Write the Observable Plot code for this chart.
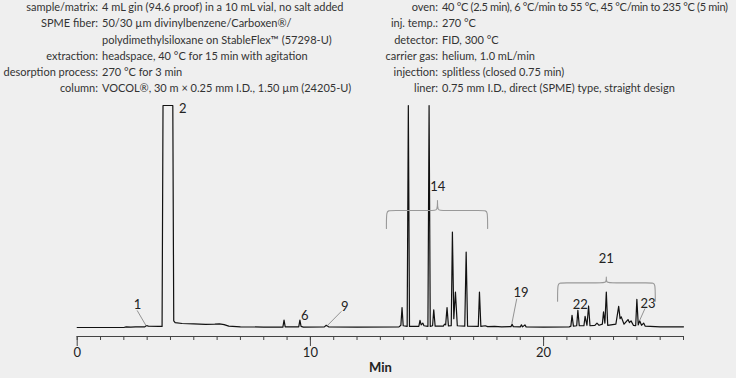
<!DOCTYPE html>
<html><head><meta charset="utf-8">
<script src="https://cdn.jsdelivr.net/npm/d3@7"></script>
<script src="https://cdn.jsdelivr.net/npm/@observablehq/plot@0.6"></script>
<style>
body{margin:0;background:#efefef;}
#wrap{position:relative;width:736px;height:378px;overflow:hidden;font-family:Lato,"Open Sans",sans-serif;}
.hdr{position:absolute;top:-1px;font-size:11px;line-height:16.3px;color:#333;}
.row{display:flex;}
.lab{text-align:right;flex:none;white-space:nowrap;}
.val{padding-left:4px;white-space:nowrap;}
#hr .row:first-child .val{letter-spacing:-0.3px;}
#chart{position:absolute;left:0;top:0;}
</style></head>
<body>
<div id="wrap"><div id="chart"></div><div id="hl" class="hdr" style="left:0"></div><div id="hr" class="hdr" style="left:360px"></div></div>
<script>
// ---- header text ----
const leftLabels = ["sample/matrix:", "SPME fiber:", "", "extraction:", "desorption process:", "column:"];
const leftValues = ["4 mL gin (94.6 proof) in a 10 mL vial, no salt added",
  "50/30 µm divinylbenzene/Carboxen®/",
  "polydimethylsiloxane on StableFlex™ (57298-U)",
  "headspace, 40 °C for 15 min with agitation",
  "270 °C for 3 min",
  "VOCOL®, 30 m × 0.25 mm I.D., 1.50 µm (24205-U)"];
const rightLabels = ["oven:", "inj. temp.:", "detector:", "carrier gas:", "injection:", "liner:"];
const rightValues = ["40 °C (2.5 min), 6 °C/min to 55 °C, 45 °C/min to 235 °C (5 min)",
  "270 °C", "FID, 300 °C", "helium, 1.0 mL/min", "splitless (closed 0.75 min)",
  "0.75 mm I.D., direct (SPME) type, straight design"];

// ---- chromatogram trace (time in min, detector response) ----
const traceTime = [0,2.0,2.1,2.3,2.5,2.9,2.97,3.05,3.5,3.64,3.68,4.10,4.14,4.2,4.5,5.0,5.5,5.9,6.1,6.3,6.5,7.0,8.0,8.82,8.87,8.92,9.5,9.55,9.6,9.7,10.6,10.68,10.78,12.0,13.8,13.88,13.93,13.98,14.15,14.2,14.25,14.65,14.7,14.75,14.82,14.87,15.04,15.09,15.14,15.24,15.29,15.35,15.7,15.75,15.8,15.86,15.92,16.04,16.09,16.15,16.22,16.3,16.62,16.68,16.74,17.2,17.25,17.31,17.5,17.6,17.9,18.2,18.6,18.65,18.7,19.0,19.05,19.1,19.2,19.25,20.0,21.1,21.17,21.22,21.28,21.42,21.47,21.53,21.73,21.78,21.86,21.93,21.99,22.2,22.29,22.38,22.52,22.57,22.63,22.69,22.75,23.1,23.22,23.28,23.33,23.45,23.62,23.68,23.75,23.85,23.95,24.0,24.06,24.12,24.2,24.29,24.36,25.0,26.0];
const traceSignal = [0,0,0.3,0.2,0.3,0.3,0.9,0.6,0.5,0.5,100,100,3,2.2,1.8,1.6,1.4,1.5,1.6,1.3,0.6,0.3,0.2,0.2,3.3,0.3,0.3,3.3,0.5,0.2,0.3,1.0,0.3,0.2,0.3,1,9,0.8,0.5,100,0.5,0.5,3.2,1.2,2,0.8,0.5,100,0.5,0.8,8,0.6,0.6,1.5,1.2,9,0.7,0.8,43,4,16,0.8,0.6,34,0.6,0.5,16,0.5,0.8,0.4,0.5,0.3,0.4,1.5,0.4,0.3,1.2,0.3,1.2,0.3,0.2,0.3,0.6,5.5,0.6,0.8,7.7,0.8,0.8,5,1,9.7,0.8,1,2,1,1.5,7,2,16,1,1.5,9.5,4,4.8,1.5,3.6,2.2,3,1,0.8,12.7,1.2,3,1,2,0.6,0.3,0.3];

// ---- peak annotations ----
const peakLabels = ["1","2","6","9","14","19","21","22","23"];
const labelTimes = [2.59,4.53,9.76,11.47,15.46,19.03,22.69,21.57,24.48];
const labelValues = [10.4,98.6,5.4,9.1,63.5,15.8,31,10.4,10.7];

const leaderIds = ["1","9","19","23"];
const leaderT1 = [2.97,10.73,18.64,24.12];
const leaderV1 = [0.5,0.9,1.8,3.2];
const leaderT2 = [2.57,11.33,18.85,24.35];
const leaderV2 = [7.7,7.3,13,8.6];

const bracketIds = ["14","21"];
const bracketStart = [13.26,20.6];
const bracketEnd = [17.6,24.79];
const bracketCenter = [15.45,22.69];
const bracketTop = [52.7,20.1];
const bracketFoot = [44.6,11.8];
const bracketTip = [57.2,22.7];

const xTicks = d3.range(0, 27);
const xMajor = [0, 10, 20];

// header
function fillHeader(id, labs, vals, labW) {
  const el = document.getElementById(id);
  labs.forEach((l, i) => {
    const r = document.createElement("div"); r.className = "row";
    const a = document.createElement("div"); a.className = "lab"; a.style.width = labW + "px"; a.textContent = l;
    const b = document.createElement("div"); b.className = "val"; b.textContent = vals[i];
    r.append(a, b); el.append(r);
  });
}
fillHeader("hl", leftLabels, leftValues, 98);
fillHeader("hr", rightLabels, rightValues, 78);

const trace = traceTime.map((t, i) => ({t, v: traceSignal[i]}));
const labels = peakLabels.map((s, i) => ({s, t: labelTimes[i], v: labelValues[i]}));
const leaders = leaderIds.map((s, i) => ({s, t1: leaderT1[i], v1: leaderV1[i], t2: leaderT2[i], v2: leaderV2[i]}));
const bracketPts = [];
bracketIds.forEach((id, i) => {
  const s = bracketStart[i], e = bracketEnd[i], c = bracketCenter[i], top = bracketTop[i], f = bracketFoot[i], tip = bracketTip[i];
  const k = 0.12, m = 0.18;
  const pts = [[s,f],[s,f],[s,f],[s,top],[s+k,top],[c-m,top],[c,top],[c,tip],[c,tip],[c,tip],[c,top],[c+m,top],[e-k,top],[e,top],[e,f],[e,f],[e,f]];
  pts.forEach(([t, v]) => bracketPts.push({id, t, v}));
});

const yMin = -4.05;
const chart = Plot.plot({
  width: 736, height: 378,
  marginLeft: 76.7, marginRight: 53, marginTop: 105, marginBottom: 42,
  x: {domain: [0, 26]},
  y: {domain: [yMin, 100], axis: null},
  style: {background: "transparent", fontFamily: "Lato, 'Open Sans', sans-serif", fontSize: "13px", color: "#333"},
  marks: [
    Plot.ruleY([yMin], {stroke: "#444", strokeWidth: 1}),
    Plot.axisX(xTicks, {tickSize: 4, tickFormat: () => "", stroke: "#444", label: null}),
    Plot.axisX(xMajor, {tickSize: 10, tickPadding: 1, stroke: "#444", fill: "#222", fontSize: 13, label: null}),
    Plot.line(trace, {x: "t", y: "v", stroke: "#111", strokeWidth: 1.2}),
    Plot.link(leaders, {x1: "t1", y1: "v1", x2: "t2", y2: "v2", stroke: "#888", strokeWidth: 0.9}),
    Plot.line(bracketPts, {x: "t", y: "v", z: "id", curve: "basis", stroke: "#999", strokeWidth: 1.1}),
    Plot.text(labels, {x: "t", y: "v", text: "s", fill: "#222", fontSize: 13}),
    Plot.text(["Min"], {x: () => 13, y: () => -18, text: d => d, fontWeight: "bold", fontSize: 13, fill: "#222"})
  ]
});
document.getElementById("chart").append(chart);
</script>
</body></html>
